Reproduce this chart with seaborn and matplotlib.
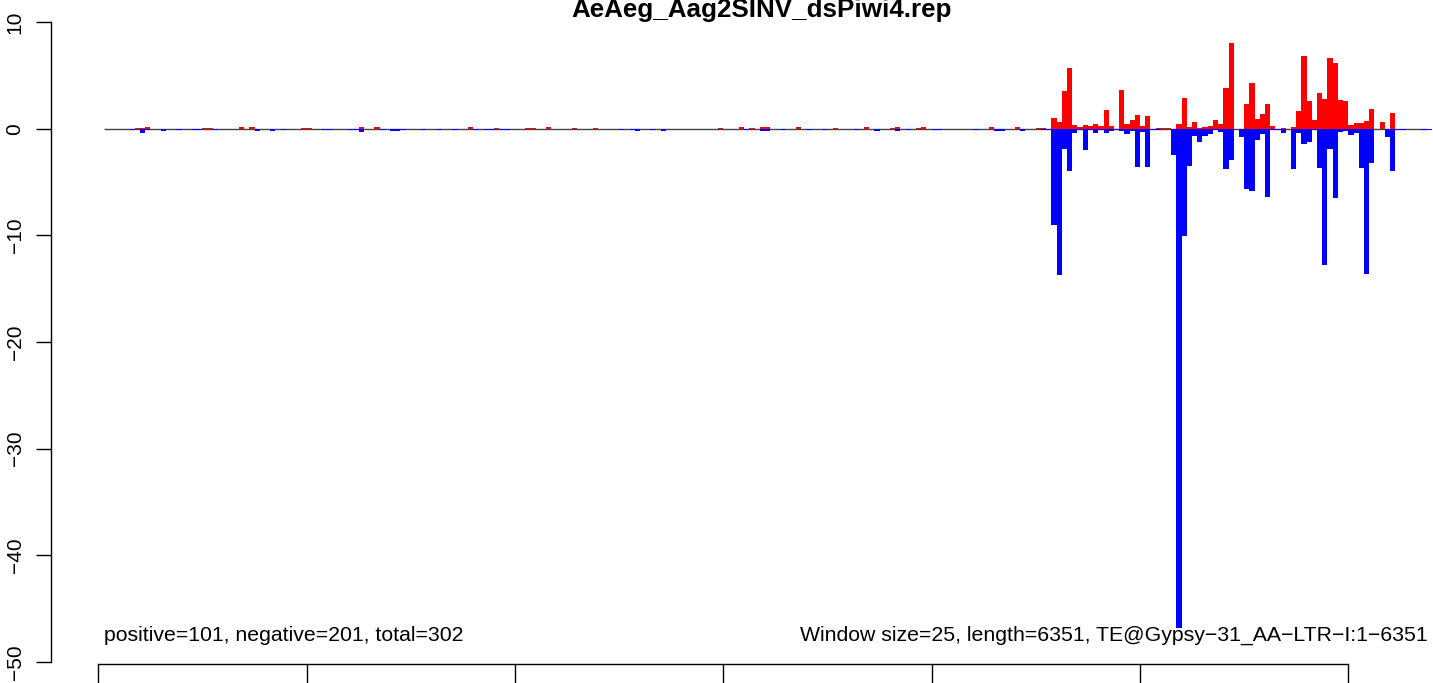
import numpy as np
import pandas as pd
import matplotlib
matplotlib.use("Agg")
import matplotlib.pyplot as plt
import seaborn as sns

# -----------------------------
# Data (windows of 25 bp along the TE)
# -----------------------------
title = "AeAeg_Aag2SINV_dsPiwi4.rep"
window_size = 25
te_length = 6351
left_note = "positive=101, negative=201, total=302"
right_note = "Window size=25, length=6351, TE@Gypsy\u221231_AA\u2212LTR\u2212I:1\u22126351"

# window index (start = index * window_size)
win_idx = [6, 7, 8, 9, 12, 15, 18, 19, 20, 21, 22, 27, 29, 30, 33, 35, 39, 40,
           43, 44, 48, 49, 50, 53, 54, 56, 57, 58, 62, 65, 68, 71, 72, 74, 75,
           76, 77, 78, 82, 83, 86, 91, 95, 100, 102, 103, 106, 108, 119, 123,
           124, 125, 127, 128, 131, 134, 136, 139, 141, 145, 147, 149, 152, 153,
           155, 157, 158, 160, 161, 168, 171, 172, 173, 176, 177, 180,
           181, 182, 183, 184, 185, 186, 187, 188, 189, 190, 191, 192, 193, 194,
           195, 196, 197, 198, 199, 200, 201, 202, 203, 204, 205, 206, 207, 208,
           209, 210, 211, 212, 213, 214, 215, 216, 217, 218, 219, 220, 221, 222,
           223, 224, 225, 226, 227, 228, 229, 230, 231, 232, 233, 234, 235, 236,
           237, 238, 239, 240, 241, 242, 243, 244, 245, 246, 247, 248, 249, 250,
           254, 255]

pos_vals = [0, 0.1, 0.1, 0.15, 0, 0, 0, 0, 0.1, 0.1, 0, 0.15, 0.15, 0, 0, 0, 0.1, 0.1,
            0, 0, 0, 0, 0.15, 0.15, 0, 0, 0, 0, 0, 0, 0, 0.15, 0, 0, 0,
            0.1, 0, 0, 0.1, 0.1, 0.15, 0.1, 0.1, 0, 0, 0, 0, 0, 0.1, 0.15,
            0, 0.1, 0.15, 0.15, 0, 0.15, 0, 0, 0.1, 0, 0.15, 0, 0.1, 0.15,
            0, 0.1, 0.15, 0, 0, 0, 0.15, 0, 0, 0.15, 0, 0.1,
            0.1, 0, 1.0, 0.66, 3.56, 5.72, 0.37, 0.12, 0.37, 0.28, 0.47, 0.28, 1.78, 0.28,
            0, 3.66, 0.47, 0.84, 1.31, 0.28, 1.22, 0, 0.1, 0.1, 0.1, 0, 0.47, 2.9,
            0.19, 0.66, 0.1, 0.19, 0.28, 0.84, 0.47, 3.84, 8.06, 0, 0, 2.34, 4.31, 0.94,
            1.41, 2.34, 0.28, 0, 0.1, 0, 0.19, 1.69, 6.84, 2.56, 0.84, 3.38, 2.81, 6.66,
            6.19, 2.72, 2.63, 0.37, 0.56, 0.56, 0.75, 1.88, 0, 0.66, 0, 1.44, 0, 0,
            0, 0]

neg_vals = [-0.1, 0, -0.44, -0.1, -0.2, -0.1, -0.1, -0.1, 0, 0, -0.1, 0, 0, -0.2, -0.2, -0.1, 0, 0,
            -0.1, -0.1, -0.1, -0.1, -0.3, 0, -0.1, -0.2, -0.2, -0.1, -0.1, -0.1, -0.1, 0, -0.1, -0.1, -0.1,
            0, -0.1, -0.1, 0, 0, 0, 0, 0, -0.1, -0.1, -0.2, -0.1, -0.2, 0, 0,
            -0.1, 0, -0.25, -0.25, -0.1, 0, -0.1, -0.15, 0, -0.15, 0, -0.25, 0, -0.2,
            -0.15, 0, 0, -0.1, -0.1, -0.1, 0, -0.25, -0.25, 0, -0.25, 0,
            -0.1, -0.1, -9.0, -13.7, -1.94, -4.0, -0.4, -0.15, -2.03, -0.1, -0.44, -0.1, -0.44, -0.25,
            -0.1, -0.25, -0.53, -0.25, -3.63, -0.34, -3.63, -0.1, -0.15, 0, 0, -2.44, -46.8, -10.1,
            -3.53, -0.66, -1.28, -0.72, -0.53, -0.15, -0.34, -3.81, -2.97, 0, -0.81, -5.69, -5.88, -1.09,
            -0.53, -6.44, -0.15, -0.15, -0.44, 0, -3.81, -0.44, -1.47, -1.28, -0.1, -3.72, -12.8, -1.94,
            -6.53, -0.34, -0.25, -0.62, -0.44, -3.72, -13.66, -3.25, 0, 0, -0.81, -4.0, -0.12, -0.1,
            -0.1, -0.1]

df = pd.DataFrame({"window": win_idx, "positive": pos_vals, "negative": neg_vals})
df["mid"] = df["window"] * window_size + window_size / 2
n_bins = te_length // window_size + 2

# -----------------------------
# Style
# -----------------------------
sns.set_style("white")
plt.rcParams["font.family"] = ["Liberation Sans", "DejaVu Sans"]
plt.rcParams["text.color"] = "black"
plt.rcParams["xtick.color"] = "black"
plt.rcParams["ytick.color"] = "black"
plt.rcParams["axes.labelcolor"] = "black"

W, H = 1433, 683
fig = plt.figure(figsize=(W / 100, H / 100), dpi=100)
# plot region in pixels: left 50.7, right 1480 (runs past the image), top 20, bottom 664
x_px0, x_px1, y_px0, y_px1 = 50.7, 1480.0, 20.0, 664.0
ax = fig.add_axes([x_px0 / W, (H - y_px1) / H, (x_px1 - x_px0) / W, (y_px1 - y_px0) / H])

ax.hlines(0, window_size, te_length + window_size, color="#444444", lw=1, zorder=0.5)
sns.histplot(data=df, x="mid", weights="positive", binwidth=window_size,
             binrange=(0, n_bins * window_size), color="#ff0000",
             alpha=1, linewidth=0, ax=ax, zorder=2)
sns.histplot(data=df, x="mid", weights="negative", binwidth=window_size,
             binrange=(0, n_bins * window_size), color="#0000ff",
             alpha=1, linewidth=0, ax=ax, zorder=2)

px_per_bp = 1250 / 6000
px_per_unit = 640 / 60
ax.set_xlim((x_px0 - 98.3) / px_per_bp, (x_px1 - 98.3) / px_per_bp)
ax.set_ylim(10 - (y_px1 - 22) / px_per_unit, 10 + (22 - y_px0) / px_per_unit)

ax.set_xticks(np.arange(0, 6001, 1000))
ax.set_xticklabels([])
ax.set_yticks(np.arange(-50, 11, 10))
for lab in ax.get_yticklabels():
    lab.set_rotation(90)
    lab.set_va("center")
ax.tick_params(axis="y", direction="out", length=10.8, width=1, labelsize=15, pad=8,
               left=True, colors="black")
ax.tick_params(axis="x", direction="out", length=14, width=1, bottom=True, colors="black")

for s in ["top", "right"]:
    ax.spines[s].set_visible(False)
ax.spines["left"].set_bounds(-50, 10)
ax.spines["bottom"].set_bounds(0, 6000)
for s in ["left", "bottom"]:
    ax.spines[s].set_linewidth(1)
    ax.spines[s].set_color("black")
ax.set_xlabel("")
ax.set_ylabel("")
ax.grid(False)

fig.text(762 / W, 1 - 16.7 / H, title, ha="center", va="baseline",
         fontsize=18.7, fontweight="bold", color="black")
fig.text(104 / W, 1 - 641 / H, left_note, ha="left", va="baseline", fontsize=15.3, color="black")
fig.text(1428 / W, 1 - 641 / H, right_note, ha="right", va="baseline", fontsize=15.3, color="black")

fig.savefig("out.png", dpi=100)
